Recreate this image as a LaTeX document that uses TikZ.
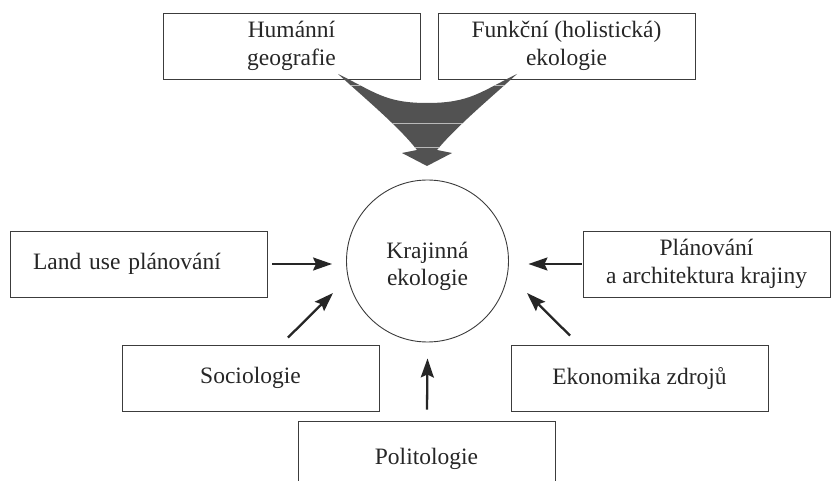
\documentclass[tikz,border=0pt]{standalone}
\usepackage{fontspec}
\setmainfont{Liberation Serif}
\usetikzlibrary{arrows.meta,calc}
\definecolor{boxline}{RGB}{60,60,60}
\definecolor{bigarrow}{RGB}{82,82,82}
\definecolor{bandline}{RGB}{185,185,185}
\tikzset{
  box/.style={draw=boxline, line width=0.9pt, minimum width=257pt, minimum height=66pt,
    inner sep=0pt, align=center, font=\fontsize{23.5}{28}\selectfont, text=black!85},
  arr/.style={draw=black!85, line width=2.3pt, -{Stealth[length=19pt,width=13pt,inset=3pt]}}
}
\begin{document}
\begin{tikzpicture}[x=1pt,y=-1pt]
\clip (0,0) rectangle (831,481);
\useasboundingbox (0,0) rectangle (831,481);

% top boxes
\node[box] (hg) at (291.5,46) {Humánní\\geografie};
\node[box] (fe) at (566.5,46) {Funkční (holistická)\\ekologie};

% big merging arrow
\begin{scope}
\clip (338,74) .. controls (368,101) and (400,128) .. (417,150) -- (402,153) -- (427,166)
  -- (452,153) -- (437,150) .. controls (455,128) and (487,101) .. (517,74)
  .. controls (480,92) and (470,103) .. (427,103) .. controls (385,103) and (375,92) .. (338,74) -- cycle;
\fill[bigarrow] (330,70) rectangle (525,170);
\draw[bandline, line width=0.8pt] (330,85) -- (525,85);
\draw[bandline, line width=0.8pt] (330,123) -- (525,123);
\draw[bandline, line width=0.8pt] (330,147) -- (525,147);
\end{scope}

% centre
\node[draw=boxline, line width=0.9pt, circle, minimum size=162pt, inner sep=0pt,
  label={[align=center, font=\fontsize{23.5}{27}\selectfont, text=black!85, yshift=-5pt]center:Krajinná\\ekologie}]
  (circ) at (427.5,261) {};

% side boxes
\node[box, text width=211pt, inner xsep=23pt, align=left] (lu) at (138.5,264) {Land use plánování};
\node[box, minimum width=247pt] (pl) at (706.5,264) {Plánování\\a architektura krajiny};
\node[box] (soc) at (250.5,378) {Sociologie};
\node[box] (eko) at (639.5,378) {Ekonomika zdrojů};
\node[box, minimum height=76pt] (pol) at (426.5,459) {Politologie};

% arrows
\draw[arr] ($(lu.east)+(5,0)$) -- ($(lu.east -| circ.west)+(-14,0)$);
\draw[arr] ($(pl.west)+(-1,0)$) -- ($(pl.west -| circ.east)+(19.5,0)$);
\draw[arr] ($(soc.north)+(37.5,-7)$) -- ($(circ.center)+(-94.5,32)$);
\draw[arr] ($(eko.north)+(-69.5,-9)$) -- ($(circ.center)+(99.5,32)$);
\draw[arr] ($(pol.north)+(0.5,-11)$) -- ($(circ.south)+(0,16)$);
\end{tikzpicture}
\end{document}
